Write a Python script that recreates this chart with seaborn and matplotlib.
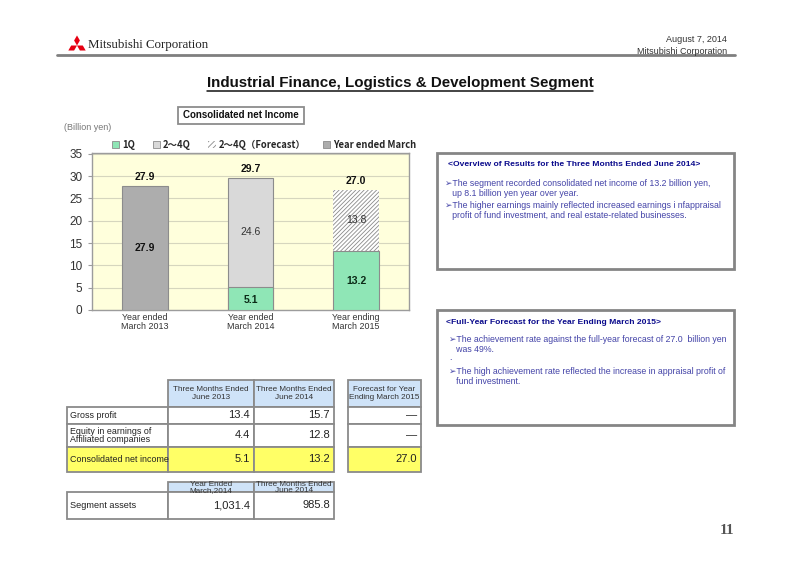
import numpy as np
import pandas as pd
import matplotlib
matplotlib.use("Agg")
import matplotlib.pyplot as plt
from matplotlib.patches import Rectangle, Patch, Polygon
from matplotlib.font_manager import FontProperties
import seaborn as sns

# ---------------- data ----------------
periods = ["Year ended\nMarch 2013", "Year ended\nMarch 2014", "Year ending\nMarch 2015"]
q1 = [np.nan, 5.1, 13.2]
q2_4 = [np.nan, 24.6, np.nan]
q2_4_forecast = [np.nan, np.nan, 13.8]
year_ended = [27.9, np.nan, np.nan]
totals = [27.9, 29.7, 27.0]
legend_labels = ["1Q", "2～4Q", "2～4Q（Forecast）", "Year ended March"]
y_ticks = [0, 5, 10, 15, 20, 25, 30, 35]

table_cols = ["Three Months Ended\nJune 2013", "Three Months Ended\nJune 2014"]
forecast_col = "Forecast for Year\nEnding March 2015"
table_rows = ["Gross profit", "Equity in earnings of\nAffiliated companies", "Consolidated net income"]
vals_2013 = ["13.4", "4.4", "5.1"]
vals_2014 = ["15.7", "12.8", "13.2"]
vals_forecast = ["—", "—", "27.0"]
assets_cols = ["Year Ended\nMarch,2014", "Three Months Ended\nJune 2014"]
assets_label = "Segment assets"
assets_vals = ["1,031.4", "985.8"]

box1_title = "<Overview of Results for the Three Months Ended June 2014>"
box1_lines = ["➢The segment recorded consolidated net income of 13.2 billion yen,",
              "   up 8.1 billion yen year over year.",
              "➢The higher earnings mainly reflected increased earnings i nfappraisal",
              "   profit of fund investment, and real estate-related businesses."]
box2_title = "<Full-Year Forecast for the Year Ending March 2015>"
box2_lines = ["➢The achievement rate against the full-year forecast of 27.0  billion yen",
              "   was 49%.",
              ".",
              "➢The high achievement rate reflected the increase in appraisal profit of",
              "   fund investment."]

# ---------------- style ----------------
sns.set_theme(style="white")
plt.rcParams['font.family'] = ['Liberation Sans', 'DejaVu Sans']
plt.rcParams['hatch.linewidth'] = 0.6

C_GREEN = "#8FE6B6"
C_LGRAY = "#D9D9D9"
C_DGRAY = "#ADADAD"
C_EDGE = "#8C8C8C"
C_HATCH = "#8A8A8A"

W, H = 800, 566
fig = plt.figure(figsize=(8, 5.66), dpi=100)

# overlay axes in pixel coordinates
ov = fig.add_axes([0, 0, 1, 1])
ov.set_xlim(0, W)
ov.set_ylim(H, 0)
ov.axis('off')
ov.patch.set_alpha(0)

# ---------------- chart ----------------
ax = fig.add_axes([92 / W, 1 - 310 / H, (409 - 92) / W, (310 - 153) / H])
ax.set_facecolor("#FFFFDC")

df = pd.DataFrame({"period": periods, "q1": q1, "q2_4": q2_4,
                   "q2_4_fc": q2_4_forecast, "year": year_ended, "total": totals})
df["top_q24"] = df["q1"] + df["q2_4"]
df["top_fc"] = df["q1"] + df["q2_4_fc"]

bw = 0.43
sns.barplot(data=df, x="period", y="year", order=periods, color=C_DGRAY,
            saturation=1, width=bw, edgecolor=C_EDGE, linewidth=0.8, ax=ax, zorder=3)
sns.barplot(data=df, x="period", y="top_q24", order=periods, color=C_LGRAY,
            saturation=1, width=bw, edgecolor=C_EDGE, linewidth=0.8, ax=ax, zorder=3)
sns.barplot(data=df, x="period", y="top_fc", order=periods, color="white",
            saturation=1, width=bw, edgecolor=C_HATCH, linewidth=0, hatch="////////",
            ax=ax, zorder=3)
sns.barplot(data=df, x="period", y="q1", order=periods, color=C_GREEN,
            saturation=1, width=bw, edgecolor=C_EDGE, linewidth=0.8, ax=ax, zorder=4)

ax.set_ylim(0, 35.2)
ax.set_xlim(-0.5, 2.5)
ax.set_yticks(y_ticks)
ax.set_xlabel("")
ax.set_ylabel("")
ax.yaxis.grid(True, color="#D6D6BE", lw=0.8, zorder=0)
ax.set_axisbelow(True)
for s in ax.spines.values():
    s.set_color("#9C9C9C")
    s.set_linewidth(1.0)
ax.tick_params(axis='y', length=3, width=0.8, color="#9C9C9C", labelsize=8.5,
               labelcolor="#333333", pad=4, left=True)
ax.tick_params(axis='x', length=0, labelsize=6.4, labelcolor="#333333", pad=2)
for lab in ax.get_xticklabels():
    lab.set_linespacing(1.0)

# value labels
for i in range(3):
    ax.text(i, totals[i] + 1.9, f"{totals[i]:.1f}", ha='center', va='center',
            fontsize=7.5, fontweight='bold', color="#111111", zorder=6)
    if not np.isnan(year_ended[i]):
        ax.text(i, year_ended[i] / 2, f"{year_ended[i]:.1f}", ha='center', va='center',
                fontsize=7.5, fontweight='bold', color="#111111", zorder=6)
    if not np.isnan(q1[i]):
        ax.text(i, q1[i] / 2 - (0.4 if q1[i] < 8 else 0), f"{q1[i]:.1f}", ha='center',
                va='center', fontsize=7.5, fontweight='bold', color="#0B2A17", zorder=6)
    if not np.isnan(q2_4[i]):
        ax.text(i, q1[i] + q2_4[i] / 2, f"{q2_4[i]:.1f}", ha='center', va='center',
                fontsize=7.5, color="#333333", zorder=6)
    if not np.isnan(q2_4_forecast[i]):
        ax.text(i, q1[i] + q2_4_forecast[i] / 2, f"{q2_4_forecast[i]:.1f}", ha='center',
                va='center', fontsize=7.5, color="#333333", zorder=6)

# legend
handles = [Patch(facecolor=C_GREEN, edgecolor=C_EDGE, lw=0.6),
           Patch(facecolor=C_LGRAY, edgecolor=C_EDGE, lw=0.6),
           Patch(facecolor="white", edgecolor=C_HATCH, lw=0, hatch="//////"),
           Patch(facecolor=C_DGRAY, edgecolor=C_EDGE, lw=0.6)]
fig.legend(handles, legend_labels, loc='center left',
           bbox_to_anchor=(112 / W, 1 - 145 / H), ncol=4, frameon=False,
           prop=FontProperties(family=['Noto Sans CJK JP', 'DejaVu Sans'],
                               weight='bold', size=6.8),
           handlelength=0.75, handleheight=0.75, handletextpad=0.3,
           columnspacing=1.9, borderpad=0, borderaxespad=0)

# ---------------- page header ----------------
# logo (three red diamonds)
O = np.array([77.0, 45.5])
a = 5.8
base = np.array([[0, 0], [a * 0.5, -a * 0.866], [0, -a * 1.732], [-a * 0.5, -a * 0.866]])
for ang in (0, 120, 240):
    t = np.deg2rad(ang)
    R = np.array([[np.cos(t), -np.sin(t)], [np.sin(t), np.cos(t)]])
    pts = base @ R.T + O
    ov.add_patch(Polygon(pts, closed=True, facecolor="#E60012", edgecolor="none"))
ov.text(88, 45, "Mitsubishi Corporation", fontsize=9.3,
        family=['Liberation Serif', 'DejaVu Serif'], color="#222222",
        ha='left', va='center')
ov.text(727, 39, "August 7, 2014", fontsize=6.5, color="#333333", ha='right', va='center')
ov.text(727, 51, "Mitsubishi Corporation", fontsize=6.5, color="#333333", ha='right', va='center')
ov.plot([57, 735], [55, 55], color="#7F7F7F", lw=2)

title = ov.text(400, 83, "Industrial Finance, Logistics & Development Segment",
                fontsize=10.9, fontweight='bold', color="#111111", ha='center', va='center')
fig.canvas.draw()
bb = title.get_window_extent(renderer=fig.canvas.get_renderer())
x0 = bb.x0 / fig.dpi * 100
x1 = bb.x1 / fig.dpi * 100
ov.plot([x0, x1], [91, 91], color="#111111", lw=1.1)

ov.add_patch(Rectangle((178, 107), 126, 17, facecolor="white", edgecolor="#8C8C8C", lw=1.3))
ov.text(241, 115.5, "Consolidated net Income", fontsize=7, fontweight='bold',
        color="#111111", ha='center', va='center')
ov.text(64, 128, "(Billion yen)", fontsize=6.5, color="#777777", ha='left', va='center')

ov.text(734, 530, "11", fontsize=11, fontweight='bold',
        family=['Liberation Serif', 'DejaVu Serif'], color="#555555", ha='right', va='center')

# ---------------- text boxes ----------------
NAVY = "#0A0A8C"
BODY = "#4444A8"
ov.add_patch(Rectangle((437, 153), 297, 116, facecolor="white", edgecolor="#858585", lw=2))
ov.text(448, 164, box1_title, fontsize=6.1, fontweight='bold', color=NAVY, ha='left', va='center')
for yy, line in zip([184, 194, 205, 215], box1_lines):
    ov.text(445, yy, line, fontsize=6.3, color=BODY, ha='left', va='center')

ov.add_patch(Rectangle((437, 310), 297, 115, facecolor="white", edgecolor="#858585", lw=2))
ov.text(446, 322, box2_title, fontsize=6.1, fontweight='bold', color=NAVY, ha='left', va='center')
for yy, line in zip([339, 349, 357, 371, 381], box2_lines):
    ov.text(449, yy, line, fontsize=6.3, color=BODY, ha='left', va='center')

# ---------------- tables ----------------
TB_EDGE = "#8A8A8A"
HEAD = "#CFE3F8"
YEL = "#FFFF66"

def cell(x, y, w, h, fc="white"):
    r = Rectangle((x, y), w, h, facecolor=fc, edgecolor=TB_EDGE, lw=1.3)
    ov.add_patch(r)
    return r

cols_x = [(168, 86), (254, 80)]
fc_x = (348, 73)
row_y = [(407, 17), (424, 23), (447, 25)]

for (cx, cw), lab in zip(cols_x, table_cols):
    cell(cx, 380, cw, 27, HEAD)
    ov.text(cx + cw / 2, 393.5, lab, fontsize=5.9, color="#333333", ha='center',
            va='center', linespacing=1.05)
cell(fc_x[0], 380, fc_x[1], 27, HEAD)
ov.text(fc_x[0] + fc_x[1] / 2, 393.5, forecast_col, fontsize=5.9, color="#333333",
        ha='center', va='center', linespacing=1.05)

for r, ((ry, rh), lab) in enumerate(zip(row_y, table_rows)):
    fc = YEL if r == 2 else "white"
    cell(67, ry, 101, rh, fc)
    ov.text(70, ry + rh / 2, lab, fontsize=6.4, color="#222222", ha='left', va='center',
            linespacing=0.95)
    for (cx, cw), v in zip(cols_x, [vals_2013[r], vals_2014[r]]):
        cell(cx, ry, cw, rh, fc)
        ov.text(cx + cw - 4, ry + rh / 2, v, fontsize=8, color="#222222", ha='right', va='center')
    cell(fc_x[0], ry, fc_x[1], rh, fc)
    ov.text(fc_x[0] + fc_x[1] - 4, ry + rh / 2, vals_forecast[r], fontsize=8,
            color="#222222", ha='right', va='center')

# assets table
for (cx, cw), lab in zip(cols_x, assets_cols):
    rect = cell(cx, 482, cw, 10, HEAD)
    ov.text(cx + cw / 2, 487.5, lab, fontsize=5.9, color="#333333", ha='center',
            va='center', linespacing=0.95)
cell(67, 492, 101, 27)
ov.text(70, 505.5, assets_label, fontsize=6.6, color="#222222", ha='left', va='center')
for (cx, cw), v in zip(cols_x, assets_vals):
    cell(cx, 492, cw, 27)
    ov.text(cx + cw - 4, 505.5, v, fontsize=8, color="#222222", ha='right', va='center')

fig.savefig("out.png", dpi=100, facecolor="white")
